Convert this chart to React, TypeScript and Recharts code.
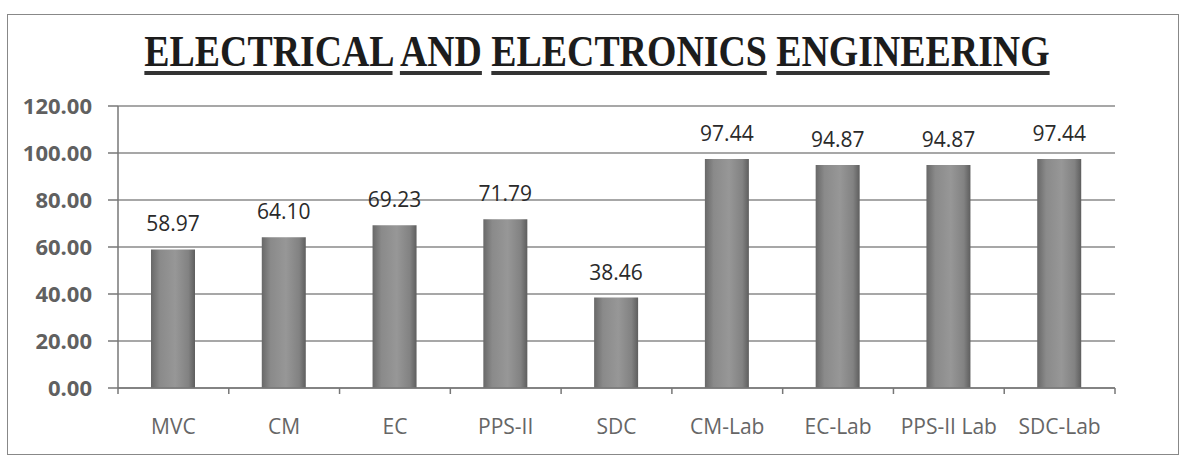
import { Bar, BarChart, CartesianGrid, LabelList, XAxis, YAxis } from "recharts"

const subjects = ["MVC", "CM", "EC", "PPS-II", "SDC", "CM-Lab", "EC-Lab", "PPS-II Lab", "SDC-Lab"]
const passPercent = [58.97, 64.1, 69.23, 71.79, 38.46, 97.44, 94.87, 94.87, 97.44]
const yTicks = [0, 20, 40, 60, 80, 100, 120]
const titleWords = ["ELECTRICAL", "AND", "ELECTRONICS", "ENGINEERING"]

const data = subjects.map((name, i) => ({ name, value: passPercent[i] }))

const W = 1186
const H = 461
const PLOT_LEFT = 118
const PLOT_RIGHT = 71
const BAND = (W - PLOT_LEFT - PLOT_RIGHT) / subjects.length

function CategoryTick(props: any) {
  const { x, y, payload, index } = props
  const left = x - BAND / 2
  return (
    <g>
      <line x1={left} y1={y - 8} x2={left} y2={y - 2} stroke="#777" strokeWidth={1.5} />
      {index === subjects.length - 1 && (
        <line x1={left + BAND} y1={y - 8} x2={left + BAND} y2={y - 2} stroke="#777" strokeWidth={1.5} />
      )}
      <text x={x} y={y + 38} textAnchor="middle" fontSize={21} fill="#666" fontFamily="Open Sans">
        {payload.value}
      </text>
    </g>
  )
}

export default function App() {
  return (
    <div style={{ position: "absolute", left: 0, top: 0, width: W, height: H, background: "#fff" }}>
      <div
        style={{
          position: "absolute",
          left: 7,
          top: 14,
          width: 1172,
          height: 441,
          border: "1.5px solid #888",
          boxSizing: "border-box",
        }}
      />
      <div
        style={{
          position: "absolute",
          left: 0,
          top: 28,
          width: 1194,
          textAlign: "center",
          fontFamily: "Liberation Serif",
          fontWeight: "bold",
          fontSize: 44,
          color: "#1c1c1c",
          lineHeight: "48px",
          transform: "scaleX(0.86)",
          transformOrigin: "597px 0",
        }}
      >
        {titleWords.map((w, i) => (
          <span key={w}>
            <span style={{ textDecoration: "underline", textDecorationThickness: 4, textUnderlineOffset: 5, textDecorationColor: "#333" }}>{w}</span>
            {i < titleWords.length - 1 ? " " : ""}
          </span>
        ))}
      </div>
      <BarChart
        width={W}
        height={H}
        data={data}
        margin={{ top: 106, right: PLOT_RIGHT, bottom: 43, left: 0 }}
        style={{ position: "absolute", left: 0, top: 0 }}
      >
        <defs>
          <linearGradient id="barFill" x1="0" y1="0" x2="1" y2="0">
            <stop offset="0%" stopColor="#686868" />
            <stop offset="20%" stopColor="#8a8a8a" />
            <stop offset="55%" stopColor="#979797" />
            <stop offset="85%" stopColor="#828282" />
            <stop offset="100%" stopColor="#5e5e5e" />
          </linearGradient>
        </defs>
        <CartesianGrid vertical={false} stroke="#8a8a8a" strokeWidth={1.5} />
        <XAxis
          dataKey="name"
          height={30}
          tick={<CategoryTick />}
          tickLine={false}
          axisLine={{ stroke: "#777", strokeWidth: 1.5 }}
          interval={0}
        />
        <YAxis
          width={PLOT_LEFT}
          domain={[0, 120]}
          ticks={yTicks}
          interval={0}
          tickFormatter={(v: number) => v.toFixed(2)}
          tick={{ fontSize: 22, fontWeight: "bold", fill: "#606060", fontFamily: "Open Sans" }}
          tickSize={10}
          tickMargin={16}
          tickLine={{ stroke: "#777", strokeWidth: 1.5 }}
          axisLine={{ stroke: "#777", strokeWidth: 1.5 }}
        />
        <Bar dataKey="value" fill="url(#barFill)" barSize={44} isAnimationActive={false}>
          <LabelList
            dataKey="value"
            position="top"
            offset={18}
            formatter={(v: any) => Number(v).toFixed(2)}
            style={{ fontSize: 21, fill: "#2a2a2a", fontFamily: "Open Sans" }}
          />
        </Bar>
      </BarChart>
    </div>
  )
}
